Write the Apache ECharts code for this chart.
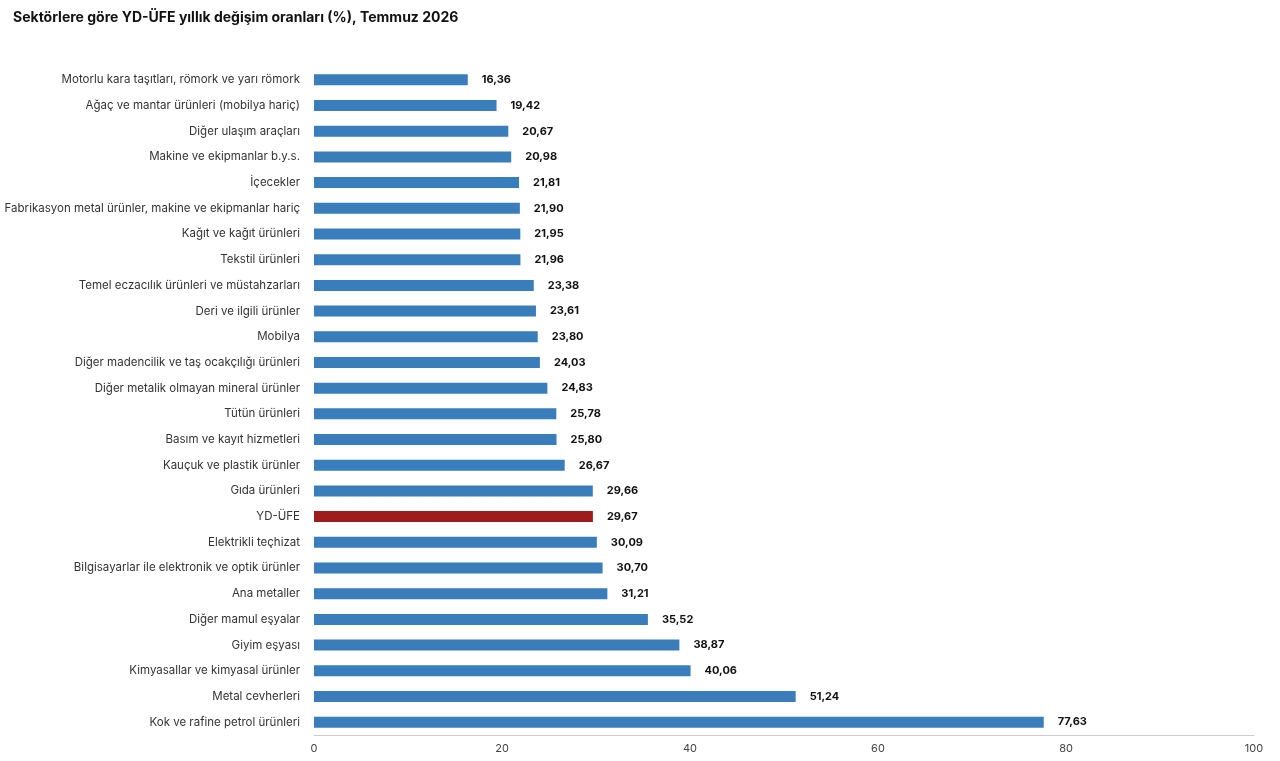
<!DOCTYPE html>
<html>
<head>
<meta charset="utf-8">
<script src="https://cdn.jsdelivr.net/npm/echarts@6/dist/echarts.min.js"></script>
<style>
  html, body { margin: 0; padding: 0; background: #fff; }
  #chart { width: 1280px; height: 761px; }
</style>
</head>
<body>
<div id="chart"></div>
<script>
const sectors = [
  'Motorlu kara taşıtları, römork ve yarı römork',
  'Ağaç ve mantar ürünleri (mobilya hariç)',
  'Diğer ulaşım araçları',
  'Makine ve ekipmanlar b.y.s.',
  'İçecekler',
  'Fabrikasyon metal ürünler, makine ve ekipmanlar hariç',
  'Kağıt ve kağıt ürünleri',
  'Tekstil ürünleri',
  'Temel eczacılık ürünleri ve müstahzarları',
  'Deri ve ilgili ürünler',
  'Mobilya',
  'Diğer madencilik ve taş ocakçılığı ürünleri',
  'Diğer metalik olmayan mineral ürünler',
  'Tütün ürünleri',
  'Basım ve kayıt hizmetleri',
  'Kauçuk ve plastik ürünler',
  'Gıda ürünleri',
  'YD-ÜFE',
  'Elektrikli teçhizat',
  'Bilgisayarlar ile elektronik ve optik ürünler',
  'Ana metaller',
  'Diğer mamul eşyalar',
  'Giyim eşyası',
  'Kimyasallar ve kimyasal ürünler',
  'Metal cevherleri',
  'Kok ve rafine petrol ürünleri'
]
const rates = [16.36, 19.42, 20.67, 20.98, 21.81, 21.90, 21.95, 21.96, 23.38, 23.61, 23.80, 24.03,
  24.83, 25.78, 25.80, 26.67, 29.66, 29.67, 30.09, 30.70, 31.21, 35.52, 38.87, 40.06, 51.24, 77.63]
const highlight = 'YD-ÜFE'

const chart = echarts.init(document.getElementById('chart'))
chart.setOption({
  animation: false,
  textStyle: { fontFamily: 'Inter, "Noto Sans", sans-serif' },
  title: {
    text: 'Sektörlere göre YD-ÜFE yıllık değişim oranları (%), Temmuz 2026',
    left: 8, top: 6,
    textStyle: { fontSize: 14, fontWeight: 'bold', color: '#111' }
  },
  grid: { left: 314, right: 26, top: 67, bottom: 26 },
  xAxis: {
    type: 'value', min: 0, max: 100, interval: 20,
    axisLine: { show: true, lineStyle: { color: '#ccc' } },
    axisTick: { show: false },
    splitLine: { show: false },
    axisLabel: { color: '#444', fontSize: 11 }
  },
  yAxis: {
    type: 'category', data: sectors, inverse: true,
    axisLine: { show: false }, axisTick: { show: false },
    axisLabel: { color: '#333', fontSize: 11.5, margin: 14 }
  },
  series: [{
    type: 'bar', barWidth: 11,
    data: rates.map((v, i) => ({
      value: v,
      itemStyle: { color: sectors[i] === highlight ? '#9e1b1e' : '#3a7dbb' }
    })),
    label: {
      show: true, position: 'right', distance: 14,
      fontWeight: 'bold', fontSize: 11, color: '#111',
      formatter: p => p.value.toFixed(2).replace('.', ',')
    }
  }]
})
</script>
</body>
</html>
